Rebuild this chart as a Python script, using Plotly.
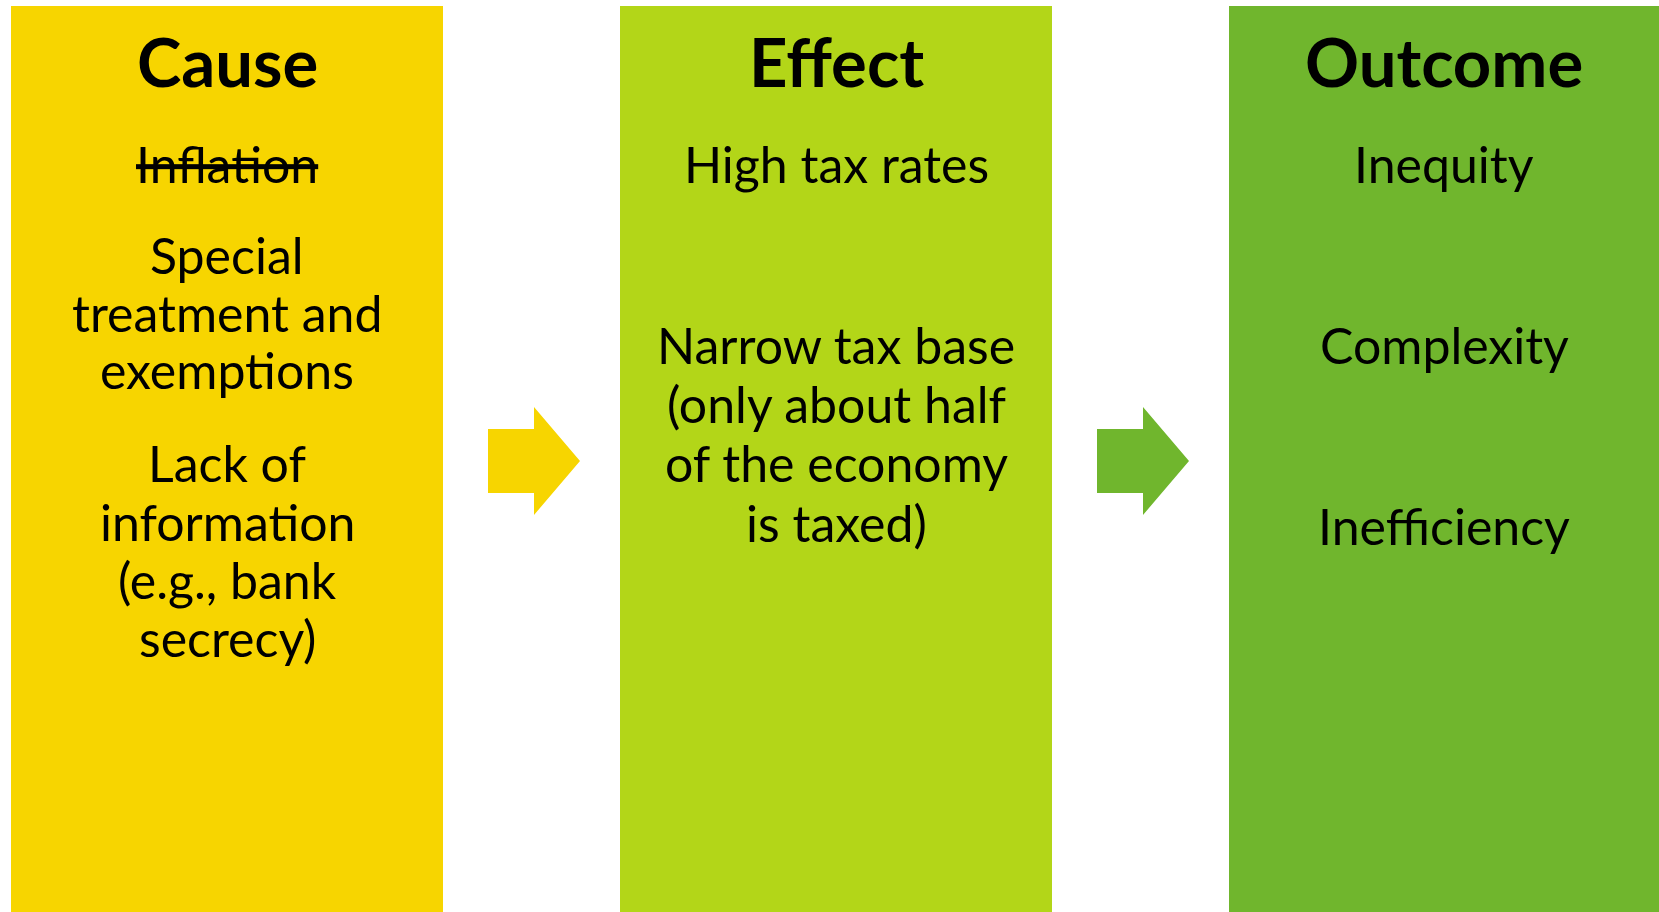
import plotly.graph_objects as go

# ---- data ----
titles = ["Cause", "Effect", "Outcome"]
cause_items = ["<s>Inflation</s>", "Special", "treatment and", "exemptions",
               "Lack of", "information", "(e.g., bank", "secrecy)"]
effect_items = ["High tax rates", "Narrow tax base", "(only about half",
                "of the economy", "is taxed)"]
outcome_items = ["Inequity", "Complexity", "Inefficiency"]
box_colors = ["#F7D500", "#B3D618", "#70B62D"]

# ---- layout geometry (pixels) ----
W, H = 1659, 912
boxes = [(11, 443), (620, 1052), (1229, 1659)]
box_top = 6
title_y = 61
cause_y = [164, 255, 313, 370, 463, 522, 580, 638]
effect_y = [164, 345, 404, 463, 523]
outcome_y = [164, 345, 526]
arrows = [(488, 534, 580), (1097, 1143, 1189)]
arrow_colors = [box_colors[0], box_colors[2]]

FONT = "Lato"
fig = go.Figure()

shapes = []
for (x0, x1), c in zip(boxes, box_colors):
    shapes.append(dict(type="rect", xref="x", yref="y", x0=x0, x1=x1,
                       y0=box_top, y1=H, fillcolor=c, line=dict(width=0),
                       layer="below"))
for (bx0, bx1, tip), c in zip(arrows, arrow_colors):
    path = (f"M {bx0},429 L {bx1},429 L {bx1},407 L {tip},461 "
            f"L {bx1},515 L {bx1},493 L {bx0},493 Z")
    shapes.append(dict(type="path", xref="x", yref="y", path=path,
                       fillcolor=c, line=dict(width=0)))

annotations = []
items_all = [cause_items, effect_items, outcome_items]
ys_all = [cause_y, effect_y, outcome_y]
for (x0, x1), t, items, ys in zip(boxes, titles, items_all, ys_all):
    cx = (x0 + x1) / 2
    annotations.append(dict(x=cx, y=title_y, xref="x", yref="y", text=f"<b>{t}</b>",
                            showarrow=False, xanchor="center", yanchor="middle",
                            font=dict(family=FONT, size=67, color="black")))
    for it, y in zip(items, ys):
        annotations.append(dict(x=cx, y=y, xref="x", yref="y", text=it,
                                showarrow=False, xanchor="center", yanchor="middle",
                                font=dict(family=FONT, size=50, color="black")))

fig.update_layout(
    width=W, height=H, margin=dict(l=0, r=0, t=0, b=0),
    paper_bgcolor="white", plot_bgcolor="white",
    xaxis=dict(range=[0, W], visible=False, fixedrange=True),
    yaxis=dict(range=[H, 0], visible=False, fixedrange=True),
    shapes=shapes, annotations=annotations, showlegend=False,
)
fig.write_html("out.html", post_script="document.body.style.margin='0';",
               config={"displayModeBar": False})
